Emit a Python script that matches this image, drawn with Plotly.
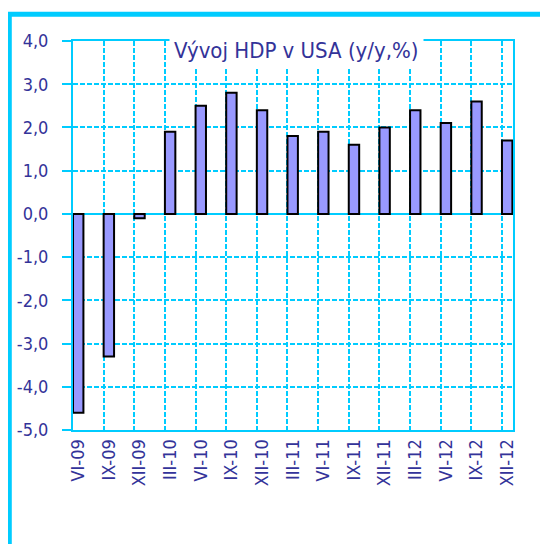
import numpy as np
import plotly.graph_objects as go

categories = ["VI-09", "IX-09", "XII-09", "III-10", "VI-10", "IX-10", "XII-10",
              "III-11", "VI-11", "IX-11", "XII-11", "III-12", "VI-12", "IX-12", "XII-12"]
gdp_yoy = [-4.6, -3.3, -0.1, 1.9, 2.5, 2.8, 2.4, 1.8, 1.9, 1.6, 2.0, 2.4, 2.1, 2.6, 1.7]
y_tick_vals = [4, 3, 2, 1, 0, -1, -2, -3, -4, -5]
y_tick_text = ["4,0", "3,0", "2,0", "1,0", "0,0", "-1,0", "-2,0", "-3,0", "-4,0", "-5,0"]
title_text = "Vývoj HDP v USA (y/y,%)"

CYAN = "#00CCFF"
NAVY = "#333399"
FONT = "Liberation Sans Narrow, Arial Narrow, DejaVu Sans Condensed, sans-serif"

x_pos = np.arange(len(categories))

fig = go.Figure()
fig.add_trace(go.Bar(
    x=x_pos, y=gdp_yoy, width=0.34,
    marker=dict(color="#9999FF", line=dict(color="black", width=2)),
    hoverinfo="skip",
))

# page body has an 8px margin: figure is sized/offset to compensate
fig.update_layout(
    width=540, height=536,
    margin=dict(l=65, r=35, t=33, b=114, autoexpand=False),
    paper_bgcolor="white", plot_bgcolor="white",
    showlegend=False,
    font=dict(family=FONT, color=NAVY, size=18),
    xaxis=dict(
        range=[-0.17, 14.19], automargin=False,
        tickmode="array", tickvals=x_pos, ticktext=categories,
        tickangle=-90, ticks="", showgrid=False, zeroline=False,
        showline=True, linecolor=CYAN, linewidth=2, mirror=True,
        tickfont=dict(family=FONT, size=18, color=NAVY),
        minor=dict(tick0=-0.17, dtick=1, showgrid=True, gridcolor=CYAN,
                   gridwidth=1.5, griddash="5px,2px", ticks=""),
    ),
    yaxis=dict(
        range=[-5, 4], automargin=False,
        tickmode="array", tickvals=y_tick_vals, ticktext=y_tick_text,
        ticks="outside", ticklen=9, tickwidth=2, tickcolor=CYAN,
        ticklabelstandoff=10,
        showgrid=True, gridcolor=CYAN, gridwidth=1.5, griddash="5px,2px",
        zeroline=True, zerolinecolor=CYAN, zerolinewidth=2,
        showline=True, linecolor=CYAN, linewidth=2, mirror=True,
        tickfont=dict(family=FONT, size=18, color=NAVY),
    ),
    shapes=[dict(type="rect", xref="paper", yref="paper",
                 x0=-0.1448, x1=1.107, y0=-0.334, y1=1.0687,
                 line=dict(color=CYAN, width=5), layer="above")],
    annotations=[dict(text=title_text, xref="paper", yref="paper",
                      x=0.507, y=0.975, xanchor="center", yanchor="middle",
                      showarrow=False, bgcolor="white", borderpad=4,
                      font=dict(family=FONT, size=22, color=NAVY))],
)

fig.write_html("out.html")
